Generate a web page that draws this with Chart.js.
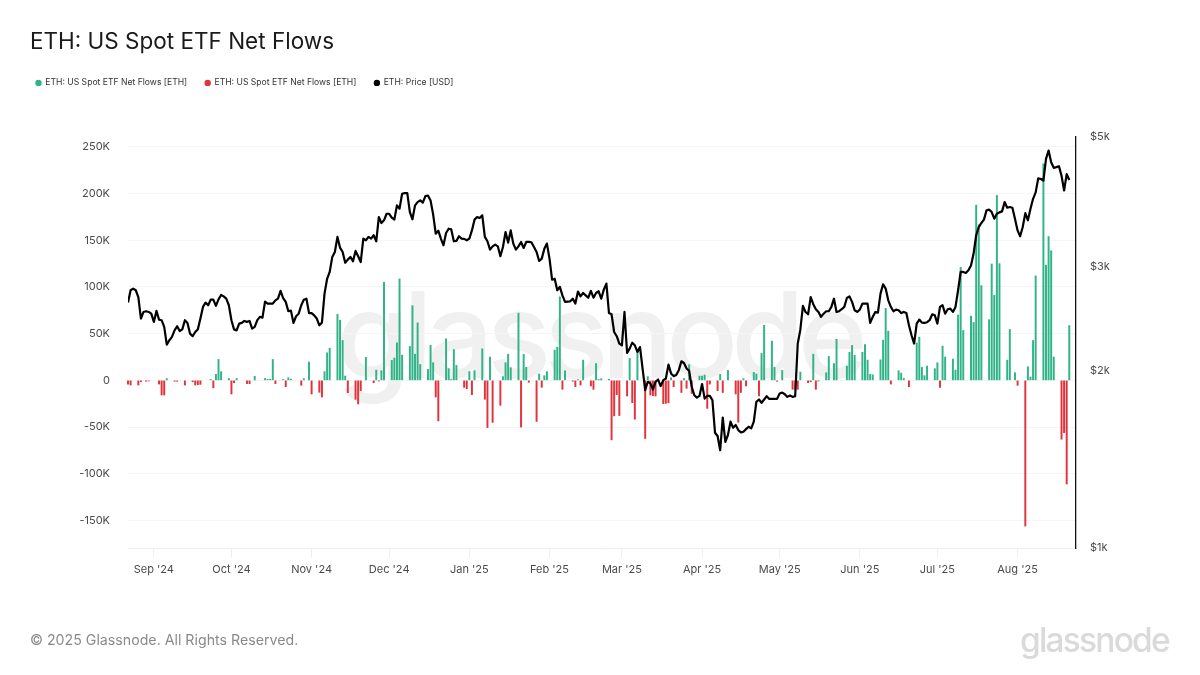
<!DOCTYPE html>
<html>
<head>
<meta charset="utf-8">
<title>ETH: US Spot ETF Net Flows</title>
<script src="https://cdn.jsdelivr.net/npm/chart.js@4"></script>
<style>
  html, body { margin: 0; padding: 0; background: #fff; }
  #wrap { position: relative; width: 1200px; height: 675px; overflow: hidden; font-family: Inter, sans-serif; }
  #chart { position: absolute; left: 0; top: 0; }
  .mark { position: absolute; color: #f0f0f0; font-weight: 500; font-size: 119px; letter-spacing: -6.8px; line-height: 140px; left: 336px; top: 265px; white-space: nowrap; }
  .copy { position: absolute; left: 30px; top: 631px; color: #8a8a8a; font-size: 14.2px; line-height: 18px; }
  .logo { position: absolute; left: 1020px; top: 620px; color: #dadada; font-weight: 500; font-size: 33.5px; letter-spacing: -1.8px; line-height: 40px; white-space: nowrap; }
</style>
</head>
<body>
<div id="wrap">
  <div class="mark">glassnode</div>
  <canvas id="chart" width="1200" height="675"></canvas>
  <div class="copy">© 2025 Glassnode. All Rights Reserved.</div>
  <div class="logo">glassnode</div>
</div>
<script>
// x values are days counted from 22 Aug 2024
const monthDays = [10, 40, 71, 101, 132, 163, 191, 222, 252, 283, 313, 344];
const monthLabels = ["Sep '24", "Oct '24", "Nov '24", "Dec '24", "Jan '25", "Feb '25", "Mar '25", "Apr '25", "May '25", "Jun '25", "Jul '25", "Aug '25"];
const flowTicks = [250000, 200000, 150000, 100000, 50000, 0, -50000, -100000, -150000];
const priceTicks = [5000, 3000, 2000, 1000];

const inflowDays = [15, 32, 34, 35, 36, 39, 42, 49, 53, 54, 55, 56, 60, 62, 63, 68, 70, 76, 77, 78, 81, 82, 83, 84, 92, 96, 98, 99, 102, 103, 104, 105, 106, 109, 110, 111, 112, 113, 116, 117, 118, 123, 124, 125, 126, 127, 132, 134, 137, 140, 145, 146, 147, 148, 151, 153, 154, 159, 161, 162, 165, 166, 167, 169, 174, 176, 181, 182, 183, 186, 194, 197, 201, 210, 215, 217, 221, 222, 223, 229, 232, 238, 242, 243, 245, 246, 249, 250, 253, 260, 265, 270, 271, 273, 274, 278, 279, 280, 281, 284, 285, 286, 287, 288, 291, 292, 293, 294, 298, 299, 300, 305, 306, 307, 308, 309, 312, 313, 315, 316, 319, 320, 321, 322, 323, 326, 327, 328, 329, 330, 333, 334, 335, 336, 337, 340, 341, 343, 348, 349, 350, 351, 354, 355, 356, 357, 358, 364];
const inflowValues = [1800, 1000, 6400, 22400, 9300, 2000, 2000, 4300, 2000, 1000, 1300, 22400, 1000, 2800, 1300, 1800, 19600, 9300, 29500, 34500, 70800, 64400, 42700, 4600, 24600, 11000, 10300, 105000, 21400, 23900, 40200, 108600, 27000, 36300, 80000, 28000, 61600, 17000, 11700, 37400, 18900, 44500, 12500, 1000, 33000, 16000, 9300, 10300, 33800, 24900, 4000, 19000, 28000, 13500, 72000, 27800, 14000, 6800, 5000, 9300, 32400, 35600, 89400, 10300, 800, 21700, 18000, 1000, 1800, 1000, 23500, 30600, 4000, 2800, 2000, 16700, 4600, 4600, 5700, 6400, 10700, 1800, 8500, 6800, 28800, 59000, 42000, 13900, 10700, 8900, 28000, 8200, 25600, 18000, 44000, 15300, 30000, 37400, 26700, 30000, 38400, 21700, 6400, 6000, 22000, 43000, 77000, 52700, 10300, 7800, 2000, 40000, 46300, 13900, 5000, 15300, 12500, 18900, 36700, 25000, 22800, 11000, 70000, 121000, 53400, 68700, 62000, 187600, 166600, 101500, 65000, 124600, 91000, 198000, 125000, 21700, 54500, 8200, 14600, 3600, 42700, 111800, 231800, 123500, 154000, 138800, 25000, 58700];

const outflowDays = [0, 1, 4, 5, 7, 8, 12, 13, 14, 18, 19, 22, 25, 26, 27, 28, 33, 40, 41, 46, 47, 57, 61, 67, 71, 74, 75, 85, 88, 89, 90, 95, 97, 119, 120, 130, 131, 133, 138, 139, 141, 144, 152, 155, 158, 160, 168, 172, 173, 175, 179, 180, 187, 188, 189, 190, 193, 195, 196, 200, 202, 203, 204, 207, 208, 209, 211, 214, 216, 218, 224, 225, 228, 230, 235, 236, 237, 239, 244, 251, 257, 258, 259, 263, 264, 266, 267, 295, 302, 314, 344, 347, 361, 362, 363];
const outflowValues = [-4000, -5000, -5000, -1500, -1000, -700, -4000, -15700, -15700, -1000, -1000, -5000, -1500, -5000, -4600, -4300, -8000, -14600, -2500, -3500, -3500, -3500, -6700, -5300, -14600, -12800, -17800, -13200, -20300, -25300, -11000, -2500, -800, -17800, -43400, -7500, -9000, -15300, -20300, -50500, -45000, -26700, -50000, -2000, -44000, -7500, -9600, -1000, -6800, -5000, -6000, -9600, -63700, -38000, -15300, -37700, -16700, -23900, -41600, -62300, -15700, -16400, -16700, -25000, -24600, -24000, -6800, -13000, -8500, -14000, -30000, -4000, -11000, -13000, -14600, -44800, -13000, -6000, -16700, -1000, -9600, -9600, -9600, -2500, -1400, -9600, -800, -4000, -6800, -7500, -5300, -156000, -63000, -56000, -111000];

// daily price in USD, one value per day from day 0
const priceValues = [
  2612, 2741, 2759, 2741, 2669, 2454, 2518, 2525, 2518, 2501, 2422, 2528, 2444, 2438, 2375, 2216, 2254, 2284, 2343, 2381,
  2337, 2352, 2438, 2412, 2313, 2290, 2328, 2352, 2454, 2568, 2612, 2585, 2642, 2642, 2578, 2645, 2691, 2676, 2652, 2585,
  2438, 2352, 2343, 2406, 2412, 2431, 2422, 2431, 2359, 2375, 2438, 2470, 2463, 2622, 2602, 2602, 2602, 2635, 2652, 2734,
  2659, 2619, 2525, 2531, 2412, 2476, 2501, 2585, 2642, 2652, 2507, 2507, 2485, 2454, 2390, 2415, 2705, 2867, 2945, 3123,
  3184, 3377, 3238, 3184, 3053, 3090, 3123, 3070, 3197, 3131, 3061, 3355, 3333, 3377, 3355, 3399, 3320, 3650, 3566, 3604,
  3697, 3697, 3641, 3613, 3821, 3771, 3998, 4009, 4009, 3722, 3618, 3821, 3870, 3895, 3861, 3961, 3971, 3895, 3688, 3420,
  3460, 3355, 3268, 3429, 3487, 3478, 3320, 3325, 3386, 3355, 3351, 3333, 3355, 3464, 3613, 3650, 3636, 3674, 3377, 3320,
  3213, 3255, 3276, 3255, 3131, 3246, 3442, 3303, 3464, 3290, 3213, 3255, 3311, 3234, 3311, 3311, 3307, 3246, 3184, 3074,
  3102, 3225, 3290, 3102, 2857, 2868, 2741, 2777, 2687, 2619, 2622, 2625, 2652, 2602, 2727, 2676, 2712, 2687, 2662, 2734,
  2662, 2712, 2730, 2652, 2748, 2813, 2507, 2495, 2328, 2290, 2225, 2210, 2518, 2145, 2181, 2233, 2210, 2154, 2195, 2018,
  1854, 1916, 1904, 1859, 1916, 1933, 1884, 1928, 1941, 2049, 1980, 1959, 1967, 2005, 2076, 2062, 2018, 2000, 1879, 1818,
  1801, 1813, 1899, 1794, 1813, 1813, 1783, 1570, 1550, 1466, 1665, 1515, 1556, 1639, 1601, 1618, 1586, 1572, 1576, 1592,
  1607, 1597, 1639, 1772, 1788, 1765, 1788, 1811, 1792, 1792, 1792, 1792, 1830, 1837, 1825, 1806, 1816, 1806, 1811, 2225,
  2349, 2578, 2518, 2495, 2669, 2595, 2545, 2518, 2470, 2501, 2525, 2525, 2568, 2652, 2518, 2525, 2545, 2568, 2659, 2676,
  2619, 2535, 2518, 2541, 2602, 2602, 2602, 2412, 2470, 2518, 2511, 2705, 2806, 2759, 2635, 2568, 2525, 2541, 2535, 2507,
  2518, 2507, 2390, 2299, 2225, 2406, 2444, 2415, 2412, 2419, 2438, 2495, 2485, 2406, 2568, 2585, 2501, 2545, 2551, 2518,
  2568, 2741, 2945, 2945, 2933, 2964, 3020, 3164, 3399, 3510, 3566, 3613, 3747, 3757, 3722, 3627, 3697, 3717, 3732, 3870,
  3786, 3796, 3786, 3627, 3464, 3386, 3510, 3707, 3604, 3771, 3920, 4020, 4247, 4236, 4210, 4582, 4735, 4524, 4425, 4437,
  4454, 4290, 4050, 4318, 4220
];

const legendName = 'ETH: US Spot ETF Net Flows [ETH]';

Chart.defaults.font.family = 'Inter, sans-serif';

// the legend sits well above the plot, so move it after the layout has reserved the room
const legendPlacer = {
  id: 'legendPlacer',
  afterLayout(chart) {
    chart.legend.left = 18;
    chart.legend.top = 60.6;
  }
};

const ctx = document.getElementById('chart').getContext('2d');
new Chart(ctx, {
  type: 'bar',
  plugins: [legendPlacer],
  data: {
    datasets: [
      {
        label: legendName,
        data: inflowDays.map((d, i) => ({ x: d, y: inflowValues[i] })),
        backgroundColor: '#2fb387',
        barThickness: 1.3,
        grouped: false,
        clip: false,
        order: 2
      },
      {
        label: legendName,
        data: outflowDays.map((d, i) => ({ x: d, y: outflowValues[i] })),
        backgroundColor: '#e2323c',
        barThickness: 1.3,
        grouped: false,
        clip: false,
        order: 2
      },
      {
        type: 'line',
        label: 'ETH: Price [USD]',
        data: priceValues.map((p, i) => ({ x: i, y: p })),
        yAxisID: 'price',
        borderColor: '#000',
        backgroundColor: '#000',
        borderWidth: 2.2,
        borderJoinStyle: 'round',
        pointRadius: 0,
        tension: 0,
        order: 1
      }
    ]
  },
  options: {
    responsive: false,
    animation: false,
    layout: { padding: { left: 30 } },
    plugins: {
      title: {
        display: true,
        text: 'ETH: US Spot ETF Net Flows',
        align: 'start',
        color: '#1a1a1a',
        font: { size: 22.5, weight: 'normal' },
        padding: { top: 29, bottom: 44 }
      },
      legend: {
        display: true,
        align: 'start',
        labels: {
          usePointStyle: true,
          pointStyle: 'circle',
          boxWidth: 5,
          boxHeight: 4.5,
          padding: 18,
          color: '#333',
          font: { size: 8.6 },
          sort: (a, b) => a.datasetIndex - b.datasetIndex,
          generateLabels: chart => Chart.defaults.plugins.legend.labels.generateLabels(chart).map(item => ({ ...item, lineWidth: 0 }))
        }
      },
      tooltip: { enabled: false }
    },
    scales: {
      x: {
        type: 'linear',
        offset: false,
        min: 0,
        max: 366.6,
        afterFit(scale) { scale.height = 127; },
        afterBuildTicks(scale) { scale.ticks = monthDays.map(d => ({ value: d })); },
        grid: { offset: false, drawOnChartArea: false, drawTicks: true, tickLength: 10, color: '#f0f0f0' },
        border: { color: '#f0f0f0' },
        ticks: {
          autoSkip: false,
          maxRotation: 0,
          padding: 5,
          color: '#4a4a4a',
          font: { size: 11 },
          callback: (value, index) => monthLabels[index]
        }
      },
      y: {
        type: 'linear',
        min: -179500,
        max: 261000,
        afterFit(scale) { scale.width = 98; },
        afterBuildTicks(scale) { scale.ticks = flowTicks.map(v => ({ value: v })); },
        grid: { color: '#f5f5f5', drawTicks: false },
        border: { display: false },
        ticks: {
          padding: 18,
          color: '#4a4a4a',
          font: { size: 11 },
          callback: value => (value === 0 ? '0' : value / 1000 + 'K')
        }
      },
      price: {
        type: 'logarithmic',
        position: 'right',
        min: 1000,
        max: 5000,
        afterFit(scale) { scale.width = 124; },
        afterBuildTicks(scale) { scale.ticks = priceTicks.map(v => ({ value: v })); },
        grid: { display: false, drawTicks: false },
        border: { display: true, color: '#111', width: 1.3 },
        ticks: {
          padding: 14,
          color: '#4a4a4a',
          font: { size: 11 },
          callback: value => '$' + value / 1000 + 'k'
        }
      }
    }
  }
});
</script>
</body>
</html>
